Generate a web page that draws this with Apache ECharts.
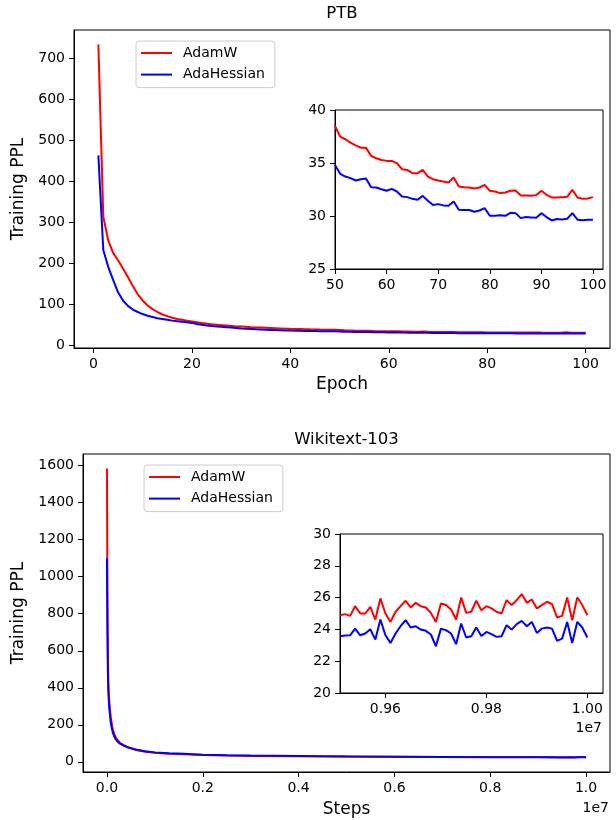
<!DOCTYPE html>
<html>
<head>
<meta charset="utf-8">
<script src="https://cdn.jsdelivr.net/npm/echarts@6/dist/echarts.min.js"></script>
<style>
html,body{margin:0;padding:0;background:#fff;}
#chart{width:616px;height:820px;}
</style>
</head>
<body>
<div id="chart"></div>
<script>
// ---------- DATA ----------
const seriesNames = ['AdamW', 'AdaHessian'];

// PTB: training PPL per epoch (1..100)
const ptbEpochs = Array.from({length: 100}, (_, i) => i + 1);
const ptbAdamW = [
  733, 314, 256, 226, 208, 188, 167, 145, 125, 110,
  98, 89, 82, 76, 72, 68, 65, 63, 61, 59,
  57, 55, 53.5, 52, 51, 50, 49, 48, 47, 46.5,
  46, 45, 44.5, 44, 43.5, 43, 42.5, 42, 41.5, 41,
  40.7, 40.4, 40.1, 39.8, 39.6, 39.3, 39.1, 38.9, 38.7,
  38.49, 37.49, 37.24, 36.92, 36.67, 36.45, 36.45, 35.67, 35.45, 35.29,
  35.20, 35.20, 34.98, 34.41, 34.35, 34.04, 34.04, 34.35, 33.72, 33.47,
  33.35, 33.25, 33.16, 33.63, 32.78, 32.72, 32.69, 32.60, 32.69, 32.94,
  32.38, 32.31, 32.16, 32.22, 32.38, 32.41, 31.94, 31.94, 31.90, 31.97,
  32.38, 32.00, 31.75, 31.75, 31.78, 31.81, 32.47, 31.75, 31.62, 31.65,
  31.78
];
const ptbAdaHessian = [
  463, 233, 192, 160, 130, 110, 97, 88, 82, 77,
  73, 70, 67, 65, 63, 61, 59.5, 58, 57, 55.5,
  53, 51, 49, 48, 47, 46, 45, 44, 43, 42,
  41.3, 40.7, 40, 39.5, 39, 38.5, 38, 37.6, 37.2, 36.8,
  36.5, 36.2, 36, 35.8, 35.6, 35.4, 35.2, 35.1, 35,
  34.82, 33.98, 33.72, 33.57, 33.35, 33.47, 33.54, 32.72, 32.69, 32.53,
  32.38, 32.56, 32.31, 31.84, 31.78, 31.62, 31.53, 31.90, 31.43, 31.03,
  31.12, 31.00, 30.96, 31.37, 30.59, 30.56, 30.56, 30.40, 30.52, 30.74,
  30.02, 30.02, 30.08, 30.02, 30.30, 30.27, 29.80, 29.90, 29.87, 29.83,
  30.27, 29.90, 29.58, 29.71, 29.68, 29.74, 30.27, 29.65, 29.61, 29.65,
  29.65
];

// Wikitext-103: coarse readings over the whole run
const wikiStepsCoarse = [0, 10000, 20000, 30000, 50000, 80000, 120000, 160000, 200000, 270000,
  350000, 450000, 600000, 800000, 1000000, 1300000, 1600000, 2000000, 2500000, 3000000,
  4000000, 5000000, 6000000, 7000000, 8000000, 9000000, 9500000];
const wikiAdamWCoarse = [1585, 900, 560, 420, 320, 240, 175, 145, 125, 103,
  90, 78, 64, 54, 49, 44, 41, 37, 34, 32,
  30, 28.5, 27.5, 26.5, 26, 25.5, 25.2];
const wikiAdaHessianCoarse = [1100, 700, 480, 370, 285, 210, 160, 132, 115, 98,
  87, 77, 67, 57, 51, 46, 43, 38.5, 35.5, 33.5,
  30.8, 28.8, 27.3, 26, 25, 24.3, 23.8];

// Wikitext-103: detailed tail (every 10k steps from 9.51e6 to 1.0e7)
const wikiStepsTail = Array.from({length: 50}, (_, i) => 9510000 + i * 10000);
const wikiAdamWTail = [
  24.89, 24.96, 24.85, 25.46, 25.00, 25.00, 25.42, 24.62, 25.95, 25.00,
  24.47, 25.11, 25.46, 25.80, 25.38, 25.67, 25.46, 25.38, 25.04, 24.47,
  25.63, 25.53, 25.25, 24.62, 26.01, 25.04, 25.11, 25.80, 25.21, 25.46,
  25.32, 25.11, 25.00, 25.84, 25.53, 25.84, 26.22, 25.67, 25.88, 25.32,
  25.53, 25.74, 25.59, 24.75, 24.85, 26.01, 24.58, 26.01, 25.53, 24.89
];
const wikiAdaHessianTail = [
  23.57, 23.61, 23.63, 24.05, 23.63, 23.74, 24.01, 23.36, 24.62, 23.63,
  23.15, 23.74, 24.20, 24.58, 24.12, 24.20, 23.99, 23.91, 23.68, 22.94,
  24.05, 23.95, 23.74, 23.07, 24.37, 23.49, 23.57, 24.12, 23.59, 23.84,
  23.70, 23.53, 23.57, 24.26, 23.99, 24.33, 24.54, 24.20, 24.47, 23.78,
  24.05, 24.12, 24.05, 23.28, 23.42, 24.47, 23.15, 24.47, 24.12, 23.49
];

// tick labels
const ptbXTicks = [0, 20, 40, 60, 80, 100];
const ptbYTicks = [0, 100, 200, 300, 400, 500, 600, 700];
const ptbInsetXTicks = [50, 60, 70, 80, 90, 100];
const ptbInsetYTicks = [25, 30, 35, 40];
const wikiXTicks = [0, 2000000, 4000000, 6000000, 8000000, 10000000];
const wikiYTicks = [0, 200, 400, 600, 800, 1000, 1200, 1400, 1600];
const wikiInsetXTicks = [9600000, 9800000, 10000000];
const wikiInsetYTicks = [20, 22, 24, 26, 28, 30];

// ---------- CHART ----------
const FONT = 'DejaVu Sans';
const RED = '#ff0000', BLUE = '#0000ff';
const zip = (xs, ys) => xs.map((x, i) => [x, ys[i]]);

function axis(gridIndex, min, max, ticks, fmt, extra) {
  return Object.assign({
    type: 'value', gridIndex, min, max, scale: true,
    axisLine: {show: true, onZero: false, lineStyle: {color: '#000', width: 1}},
    axisTick: {show: true, length: 5, customValues: ticks, lineStyle: {color: '#000', width: 1}},
    axisLabel: {customValues: ticks, fontSize: 14, fontFamily: FONT, color: '#000', margin: 9,
      formatter: fmt || (v => String(v))},
    splitLine: {show: false}
  }, extra || {});
}
const gridBase = {show: true, borderColor: '#000', borderWidth: 1, backgroundColor: '#fff', containLabel: false};
const line = (name, color, xi, yi, data) => ({
  name, type: 'line', xAxisIndex: xi, yAxisIndex: yi, data, showSymbol: false, symbol: 'none',
  lineStyle: {color, width: 2}, itemStyle: {color}, clip: true
});
const legendBase = {
  orient: 'vertical', data: seriesNames, icon: 'rect', itemWidth: 31, itemHeight: 2, itemGap: 5.6,
  textStyle: {fontSize: 14, fontFamily: FONT, color: '#000', lineHeight: 16, padding: [0, 0, 0, 6]},
  backgroundColor: 'rgba(255,255,255,0.8)', borderColor: '#cccccc', borderWidth: 1, borderRadius: 3,
  padding: [4, 10, 5, 5], selectedMode: false
};
const nameStyle = {fontSize: 17, fontFamily: FONT, color: '#000'};
const f1e7 = d => v => (v / 1e7).toFixed(d);

const option = {
  animation: false,
  backgroundColor: '#fff',
  grid: [
    Object.assign({left: 74, top: 30, width: 536, height: 318}, gridBase),
    Object.assign({left: 335, top: 110, width: 268, height: 159}, gridBase),
    Object.assign({left: 83, top: 454, width: 527, height: 318}, gridBase),
    Object.assign({left: 340, top: 534, width: 263, height: 159}, gridBase)
  ],
  xAxis: [
    axis(0, -3.95, 104.95, ptbXTicks, null, {name: 'Epoch', nameLocation: 'middle', nameGap: 28, nameTextStyle: nameStyle}),
    axis(1, 50, 101.94, ptbInsetXTicks),
    axis(2, -500000, 10500000, wikiXTicks, f1e7(1), {name: 'Steps', nameLocation: 'middle', nameGap: 29, nameTextStyle: nameStyle}),
    axis(3, 9510000, 10031000, wikiInsetXTicks, f1e7(2))
  ],
  yAxis: [
    axis(0, -5.6, 768.2, ptbYTicks, null, {name: 'Training PPL', nameLocation: 'middle', nameGap: 44, nameTextStyle: nameStyle}),
    axis(1, 25, 40, ptbInsetYTicks),
    axis(2, -55, 1663, wikiYTicks, null, {name: 'Training PPL', nameLocation: 'middle', nameGap: 52, nameTextStyle: nameStyle}),
    axis(3, 20, 30, wikiInsetYTicks)
  ],
  legend: [
    Object.assign({left: 136, top: 41}, legendBase),
    Object.assign({left: 144, top: 465}, legendBase)
  ],
  graphic: [
    {type: 'text', x: 342, y: 14, style: {text: 'PTB', font: '16.5px "DejaVu Sans"', fill: '#000', textAlign: 'center', textVerticalAlign: 'middle'}},
    {type: 'text', x: 346.5, y: 440, style: {text: 'Wikitext-103', font: '16.5px "DejaVu Sans"', fill: '#000', textAlign: 'center', textVerticalAlign: 'middle'}},
    {type: 'text', x: 609, y: 808, style: {text: '1e7', font: '14px "DejaVu Sans"', fill: '#000', textAlign: 'right', textVerticalAlign: 'middle'}},
    {type: 'text', x: 602, y: 728, style: {text: '1e7', font: '14px "DejaVu Sans"', fill: '#000', textAlign: 'right', textVerticalAlign: 'middle'}}
  ],
  series: [
    line('AdamW', RED, 0, 0, zip(ptbEpochs, ptbAdamW)),
    line('AdaHessian', BLUE, 0, 0, zip(ptbEpochs, ptbAdaHessian)),
    line('AdamW', RED, 1, 1, zip(ptbEpochs, ptbAdamW).filter(p => p[0] >= 50)),
    line('AdaHessian', BLUE, 1, 1, zip(ptbEpochs, ptbAdaHessian).filter(p => p[0] >= 50)),
    line('AdamW', RED, 2, 2, zip(wikiStepsCoarse.concat(wikiStepsTail), wikiAdamWCoarse.concat(wikiAdamWTail))),
    line('AdaHessian', BLUE, 2, 2, zip(wikiStepsCoarse.concat(wikiStepsTail), wikiAdaHessianCoarse.concat(wikiAdaHessianTail))),
    line('AdamW', RED, 3, 3, zip(wikiStepsTail, wikiAdamWTail)),
    line('AdaHessian', BLUE, 3, 3, zip(wikiStepsTail, wikiAdaHessianTail))
  ]
};

const chart = echarts.init(document.getElementById('chart'), null, {renderer: 'canvas'});
chart.setOption(option);
</script>
</body>
</html>
